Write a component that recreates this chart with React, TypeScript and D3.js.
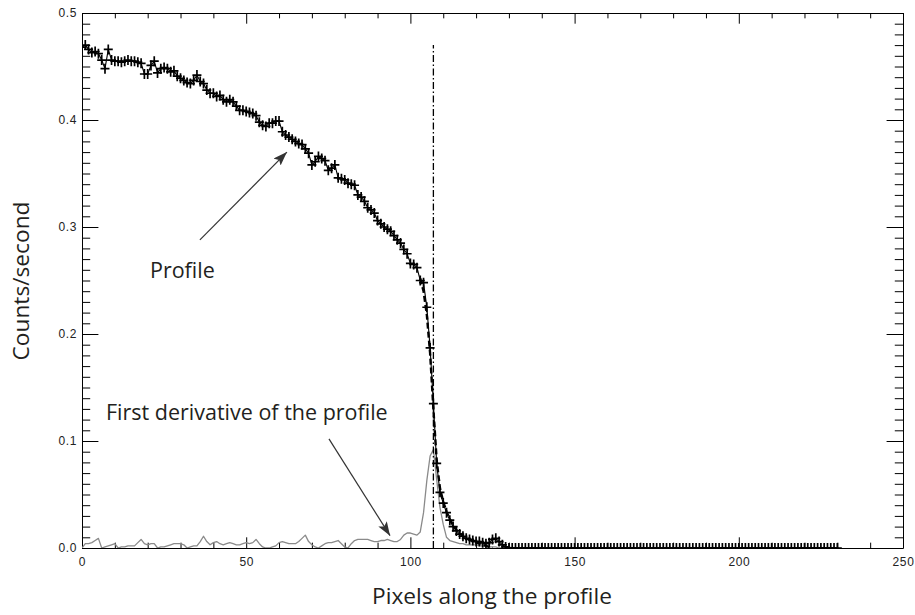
import React, { useEffect, useRef } from "react";
import * as d3 from "d3";

// Profile counts/second, one value per pixel (pixel index 0..230)
const profileValues: number[] = [
  0.468, 0.470, 0.466, 0.463, 0.464, 0.462, 0.456, 0.448, 0.466, 0.456,
  0.455, 0.455, 0.454, 0.455, 0.456, 0.455, 0.455, 0.454, 0.453, 0.443,
  0.443, 0.451, 0.455, 0.444, 0.448, 0.449, 0.448, 0.445, 0.446, 0.441,
  0.439, 0.437, 0.435, 0.434, 0.437, 0.442, 0.436, 0.434, 0.428, 0.425,
  0.425, 0.422, 0.423, 0.419, 0.417, 0.419, 0.417, 0.413, 0.409, 0.409,
  0.408, 0.407, 0.406, 0.404, 0.398, 0.395, 0.394, 0.397, 0.397, 0.399,
  0.399, 0.389, 0.386, 0.384, 0.382, 0.380, 0.378, 0.377, 0.373, 0.369,
  0.358, 0.361, 0.366, 0.364, 0.362, 0.353, 0.355, 0.358, 0.346, 0.345,
  0.344, 0.341, 0.340, 0.339, 0.330, 0.328, 0.324, 0.318, 0.316, 0.313,
  0.306, 0.303, 0.300, 0.298, 0.296, 0.292, 0.288, 0.285, 0.279, 0.275,
  0.266, 0.265, 0.262, 0.250, 0.248, 0.225, 0.187, 0.135, 0.079, 0.052,
  0.042, 0.033, 0.026, 0.020, 0.016, 0.013, 0.011, 0.009, 0.008, 0.007,
  0.006, 0.006, 0.005, 0.004, 0.005, 0.008, 0.009, 0.006, 0.003, 0.001,
  0, 0, 0, 0, 0, 0, 0, 0, 0, 0,
  0, 0, 0, 0, 0, 0, 0, 0, 0, 0,
  0, 0, 0, 0, 0, 0, 0, 0, 0, 0,
  0, 0, 0, 0, 0, 0, 0, 0, 0, 0,
  0, 0, 0, 0, 0, 0, 0, 0, 0, 0,
  0, 0, 0, 0, 0, 0, 0, 0, 0, 0,
  0, 0, 0, 0, 0, 0, 0, 0, 0, 0,
  0, 0, 0, 0, 0, 0, 0, 0, 0, 0,
  0, 0, 0, 0, 0, 0, 0, 0, 0, 0,
  0, 0, 0, 0, 0, 0, 0, 0, 0, 0,
  0,
];

// First derivative of the profile (absolute), one value per pixel
const derivativeValues: number[] = [
  0.000, 0.004, 0.004, 0.005, 0.007, 0.009, 0.000, 0.001, 0.002, 0.003,
  0.004, 0.000, 0.001, 0.001, 0.002, 0.002, 0.002, 0.005, 0.008, 0.004,
  0.003, 0.004, 0.004, 0.000, 0.001, 0.001, 0.002, 0.003, 0.004, 0.004,
  0.004, 0.003, 0.000, 0.001, 0.002, 0.002, 0.006, 0.011, 0.006, 0.003,
  0.005, 0.006, 0.004, 0.003, 0.004, 0.005, 0.004, 0.003, 0.003, 0.004,
  0.005, 0.004, 0.005, 0.008, 0.004, 0.001, 0.000, 0.000, 0.001, 0.002,
  0.005, 0.006, 0.005, 0.004, 0.004, 0.004, 0.006, 0.009, 0.012, 0.006,
  0.003, 0.001, 0.000, 0.002, 0.004, 0.005, 0.005, 0.006, 0.007, 0.004,
  0.001, 0.000, 0.004, 0.007, 0.008, 0.008, 0.008, 0.008, 0.007, 0.006,
  0.006, 0.007, 0.007, 0.008, 0.007, 0.006, 0.006, 0.008, 0.012, 0.014,
  0.014, 0.013, 0.012, 0.015, 0.033, 0.063, 0.086, 0.092, 0.064, 0.038,
  0.022, 0.010, 0.007, 0.006, 0.005, 0.004, 0.004, 0.003, 0.003, 0.003,
  0.003, 0.002, 0.002, 0.002, 0.001, 0.001, 0.001, 0, 0, 0,
  0, 0, 0, 0, 0, 0, 0, 0, 0, 0,
  0, 0, 0, 0, 0, 0, 0, 0, 0, 0,
  0, 0, 0, 0, 0, 0, 0, 0, 0, 0,
  0, 0, 0, 0, 0, 0, 0, 0, 0, 0,
  0, 0, 0, 0, 0, 0, 0, 0, 0, 0,
  0, 0, 0, 0, 0, 0, 0, 0, 0, 0,
  0, 0, 0, 0, 0, 0, 0, 0, 0, 0,
  0, 0, 0, 0, 0, 0, 0, 0, 0, 0,
  0, 0, 0, 0, 0, 0, 0, 0, 0, 0,
  0, 0, 0, 0, 0, 0, 0, 0, 0, 0,
  0,
];

// Fitted edge model (dashed)
const fitPixels: number[] = [103, 104, 105, 106, 107, 108, 109, 110, 111, 112, 113, 114, 115, 116, 117, 118, 119, 120, 121, 122, 123, 124, 125];
const fitValues: number[] = [0.252, 0.240, 0.218, 0.182, 0.130, 0.082, 0.056, 0.043, 0.034, 0.027, 0.021, 0.017, 0.014, 0.011, 0.009, 0.008, 0.006, 0.005, 0.004, 0.003, 0.002, 0.001, 0.000];

// Edge position (dash-dot)
const edgePixel = 107;
const edgeTop = 0.47;

const xMajorTicks = [0, 50, 100, 150, 200, 250];
const xMinorTicks = [10, 20, 30, 40, 60, 70, 80, 90, 110, 120, 130, 140, 160, 170, 180, 190, 210, 220, 230, 240];
const yMajorTicks = [0, 0.1, 0.2, 0.3, 0.4, 0.5];
const yMinorTicks = [
  0.01, 0.02, 0.03, 0.04, 0.05, 0.06, 0.07, 0.08, 0.09,
  0.11, 0.12, 0.13, 0.14, 0.15, 0.16, 0.17, 0.18, 0.19,
  0.21, 0.22, 0.23, 0.24, 0.25, 0.26, 0.27, 0.28, 0.29,
  0.31, 0.32, 0.33, 0.34, 0.35, 0.36, 0.37, 0.38, 0.39,
  0.41, 0.42, 0.43, 0.44, 0.45, 0.46, 0.47, 0.48, 0.49,
];

const xTitle = "Pixels along the profile";
const yTitle = "Counts/second";

// Annotations in data units
const annotationTexts = ["Profile", "First derivative of the profile"];
const annotationTextPos: [number, number][] = [[20.7, 0.2525], [7.3, 0.1195]];
const annotationArrows: [number, number, number, number][] = [
  [35.9, 0.288, 62.4, 0.370],
  [75.2, 0.102, 93.8, 0.0115],
];

const W = 915;
const H = 615;

export default function App() {
  const ref = useRef<SVGSVGElement>(null);

  useEffect(() => {
    const svg = d3.select(ref.current);
    svg.selectAll("*").remove();

    const left = 82, right = 903, top = 13, bottom = 548;
    const x = d3.scaleLinear().domain([0, 250]).range([left, right]);
    const y = d3.scaleLinear().domain([0, 0.5]).range([bottom, top]);

    svg.append("rect").attr("width", W).attr("height", H).attr("fill", "#fff");

    const defs = svg.append("defs");
    defs.append("clipPath").attr("id", "plotclip")
      .append("rect").attr("x", left).attr("y", top).attr("width", right - left).attr("height", bottom - top);
    defs.append("marker")
      .attr("id", "arrowhead")
      .attr("markerUnits", "userSpaceOnUse")
      .attr("viewBox", "0 0 14 10")
      .attr("refX", 14).attr("refY", 5)
      .attr("markerWidth", 14).attr("markerHeight", 10)
      .attr("orient", "auto")
      .append("path").attr("d", "M0,0 L14,5 L0,10 L3,5 Z").attr("fill", "#333");

    const xLen = (bottom - top) * 0.02;
    const yLen = (right - left) * 0.02;
    const tickFont = "'Liberation Sans', Arial, sans-serif";

    const styleAxis = (g: any) => {
      g.selectAll("path.domain").attr("stroke", "#000").attr("stroke-width", 1);
      g.selectAll("line").attr("stroke", "#000").attr("stroke-width", 1);
      g.selectAll("text").attr("font-family", tickFont).attr("font-size", 12).attr("fill", "#222").attr("letter-spacing", 0.6);
    };

    // bottom
    svg.append("g").attr("transform", `translate(0,${bottom})`)
      .call(d3.axisBottom(x).tickValues(xMajorTicks).tickSize(-xLen).tickSizeOuter(0).tickPadding(9).tickFormat(d3.format("d")))
      .call(styleAxis);
    svg.append("g").attr("transform", `translate(0,${bottom})`)
      .call(d3.axisBottom(x).tickValues(xMinorTicks).tickSize(-xLen / 2).tickFormat(() => ""))
      .call((g: any) => g.select("path.domain").remove())
      .call(styleAxis);
    // top
    svg.append("g").attr("transform", `translate(0,${top})`)
      .call(d3.axisTop(x).tickValues(xMajorTicks).tickSize(-xLen).tickSizeOuter(0).tickFormat(() => ""))
      .call(styleAxis);
    svg.append("g").attr("transform", `translate(0,${top})`)
      .call(d3.axisTop(x).tickValues(xMinorTicks).tickSize(-xLen / 2).tickFormat(() => ""))
      .call((g: any) => g.select("path.domain").remove())
      .call(styleAxis);
    // left
    svg.append("g").attr("transform", `translate(${left},0)`)
      .call(d3.axisLeft(y).tickValues(yMajorTicks).tickSize(-yLen).tickSizeOuter(0).tickPadding(5).tickFormat(d3.format(".1f")))
      .call(styleAxis);
    svg.append("g").attr("transform", `translate(${left},0)`)
      .call(d3.axisLeft(y).tickValues(yMinorTicks).tickSize(-yLen / 2).tickFormat(() => ""))
      .call((g: any) => g.select("path.domain").remove())
      .call(styleAxis);
    // right
    svg.append("g").attr("transform", `translate(${right},0)`)
      .call(d3.axisRight(y).tickValues(yMajorTicks).tickSize(-yLen).tickSizeOuter(0).tickFormat(() => ""))
      .call(styleAxis);
    svg.append("g").attr("transform", `translate(${right},0)`)
      .call(d3.axisRight(y).tickValues(yMinorTicks).tickSize(-yLen / 2).tickFormat(() => ""))
      .call((g: any) => g.select("path.domain").remove())
      .call(styleAxis);

    const plot = svg.append("g").attr("clip-path", "url(#plotclip)");
    const line = d3.line<[number, number]>().x((d) => x(d[0])).y((d) => y(d[1]));

    const derivPts: [number, number][] = derivativeValues.map((v, i) => [i, v]);
    const profPts: [number, number][] = profileValues.map((v, i) => [i, v]);
    const fitPts: [number, number][] = fitPixels.map((p, i) => [p, fitValues[i]]);

    plot.append("path").attr("d", line(derivPts) as string)
      .attr("fill", "none").attr("stroke", "#8a8a8a").attr("stroke-width", 1.3).attr("stroke-linejoin", "round");

    plot.append("path").attr("d", line(profPts) as string)
      .attr("fill", "none").attr("stroke", "#000").attr("stroke-width", 1.1);

    plot.append("g").selectAll("path").data(profPts).enter().append("path")
      .attr("transform", (d) => `translate(${x(d[0])},${y(d[1])})`)
      .attr("d", "M-4.5,0H4.5M0,-5V5")
      .attr("stroke", "#000").attr("stroke-width", 1.7).attr("fill", "none");

    plot.append("path").attr("d", line(fitPts) as string)
      .attr("fill", "none").attr("stroke", "#000").attr("stroke-width", 2.4).attr("stroke-dasharray", "6,3");

    plot.append("line")
      .attr("x1", x(edgePixel)).attr("x2", x(edgePixel))
      .attr("y1", y(0)).attr("y2", y(edgeTop))
      .attr("stroke", "#000").attr("stroke-width", 1.3).attr("stroke-dasharray", "7,2.5,1.5,2.5");

    // annotations
    const annFont = "'Open Sans', 'Noto Sans', sans-serif";
    annotationTexts.forEach((t, i) => {
      svg.append("text")
        .attr("x", x(annotationTextPos[i][0])).attr("y", y(annotationTextPos[i][1]))
        .attr("font-family", annFont).attr("font-size", 21.5).attr("fill", "#231f20")
        .text(t);
    });
    annotationArrows.forEach((a) => {
      svg.append("line")
        .attr("x1", x(a[0])).attr("y1", y(a[1])).attr("x2", x(a[2])).attr("y2", y(a[3]))
        .attr("stroke", "#333").attr("stroke-width", 1.2).attr("marker-end", "url(#arrowhead)");
    });

    // titles
    svg.append("text")
      .attr("x", (left + right) / 2 - 0.5).attr("y", 604)
      .attr("text-anchor", "middle")
      .attr("font-family", annFont).attr("font-size", 22.7).attr("fill", "#231f20")
      .text(xTitle);
    svg.append("text")
      .attr("transform", `translate(29,281) rotate(-90)`)
      .attr("text-anchor", "middle")
      .attr("font-family", annFont).attr("font-size", 22.7).attr("fill", "#231f20")
      .text(yTitle);
  }, []);

  return (
    <svg
      ref={ref}
      width={W}
      height={H}
      style={{ position: "absolute", left: 0, top: 0, display: "block" }}
    />
  );
}
